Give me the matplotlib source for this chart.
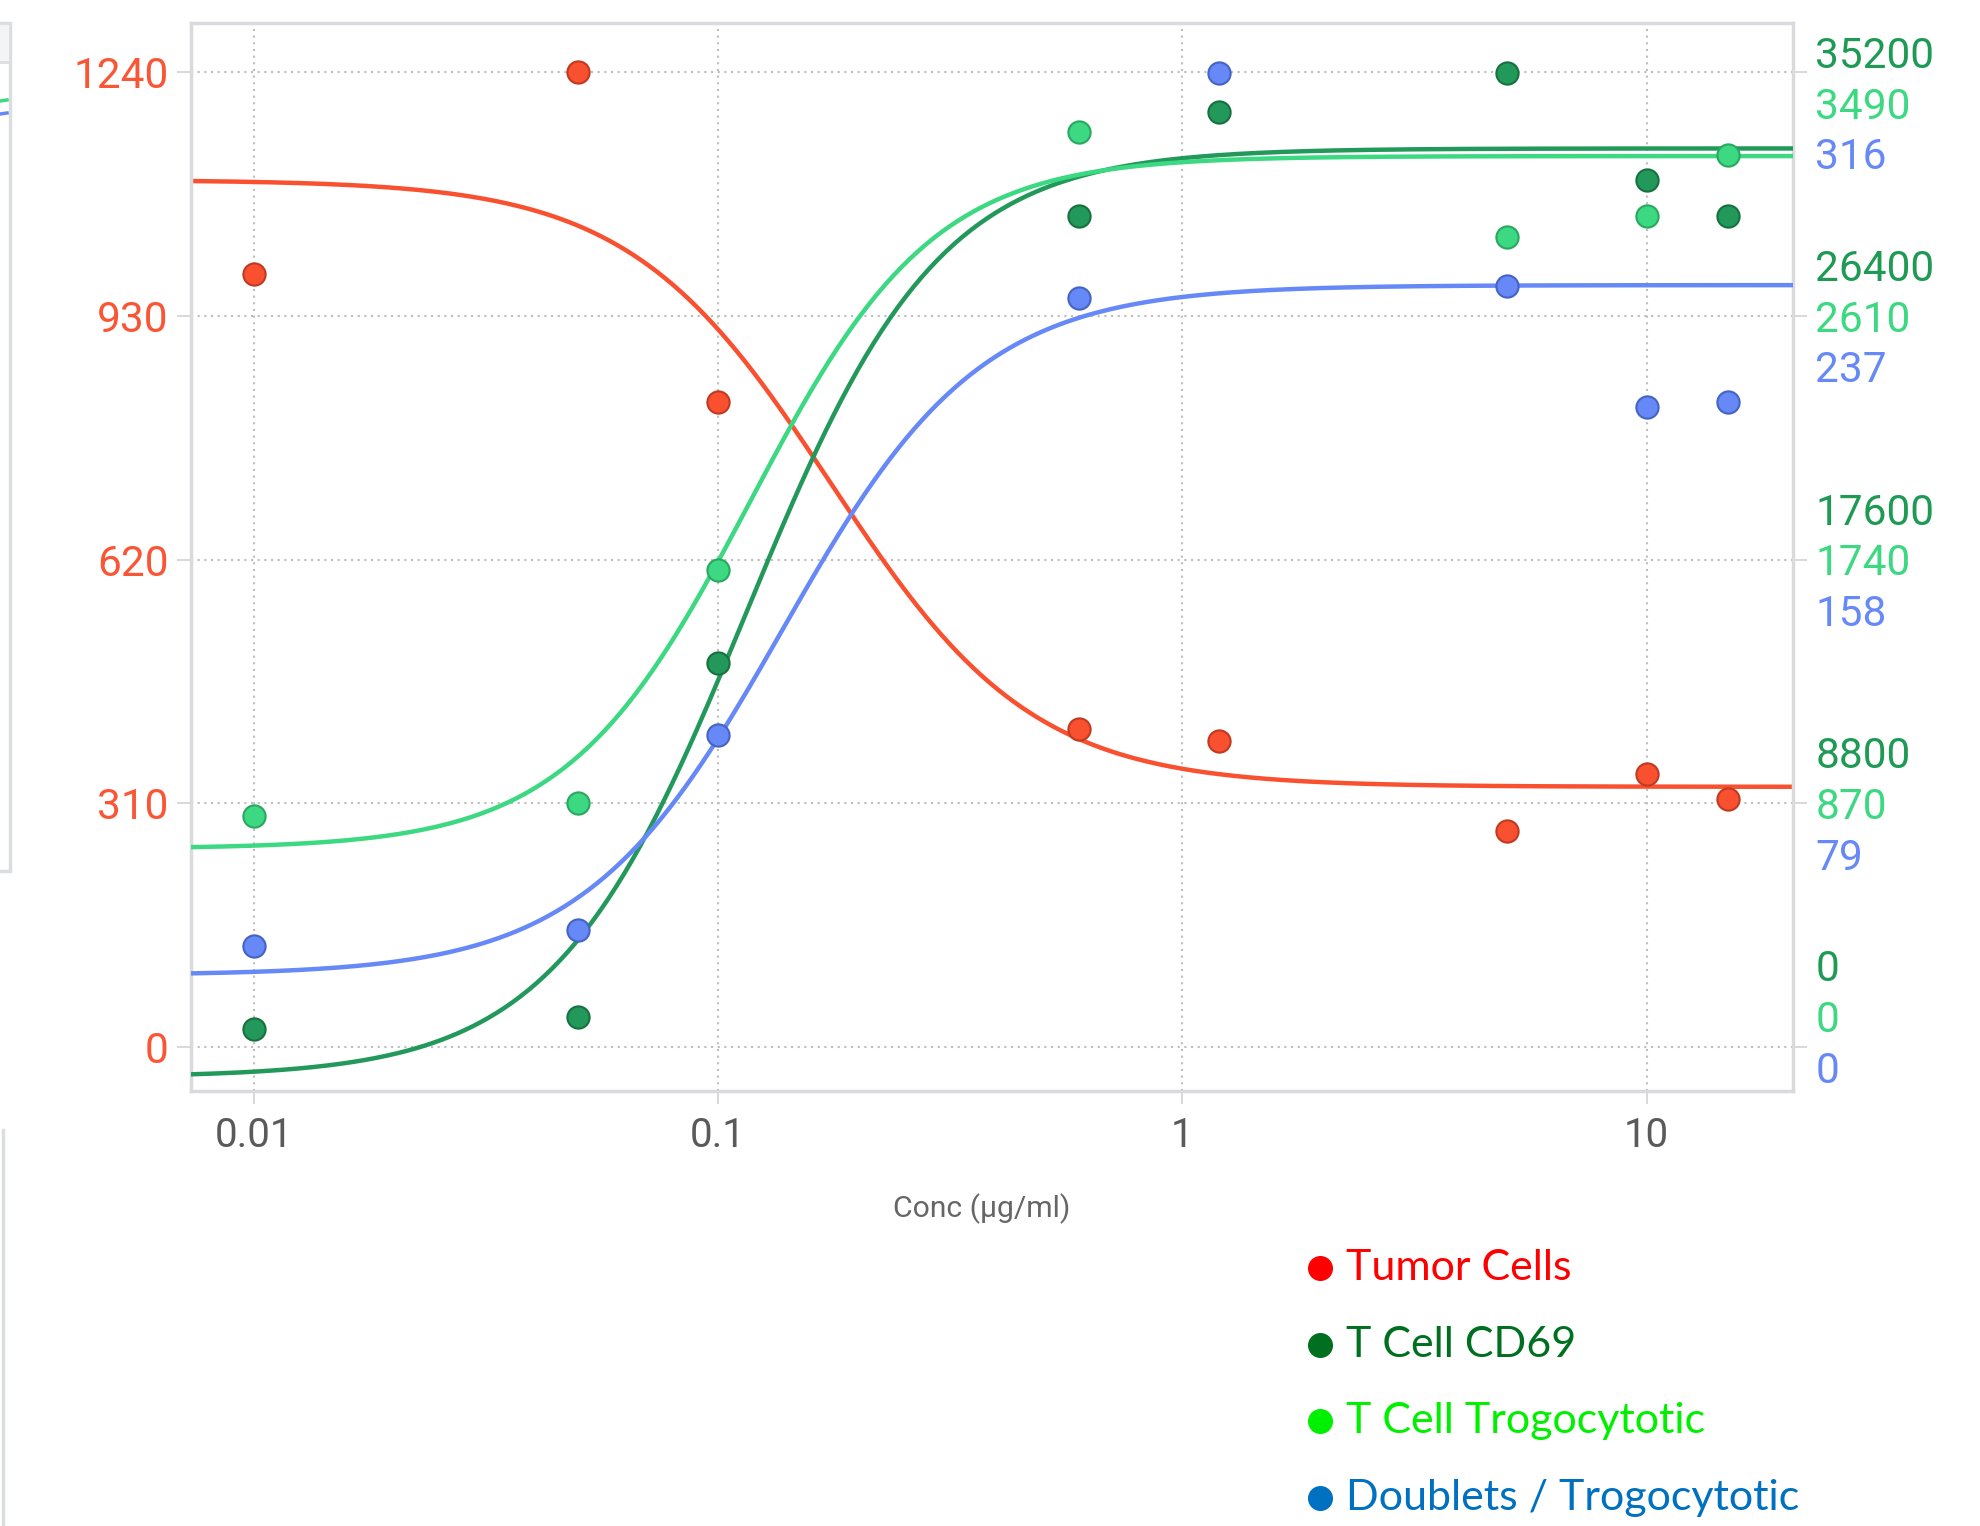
import matplotlib
matplotlib.use("Agg")
import matplotlib.pyplot as plt
import numpy as np
from matplotlib.lines import Line2D
from matplotlib.patches import Rectangle

# точки (концентрация в мкг/мл)
conc = [0.01, 0.05, 0.1, 0.6, 1.2, 5, 10, 15]
tumor = [983, 1240, 821, 405, 389, 275, 347, 315]
cd69 = [640, 1090, 13870, 30000, 33760, 35170, 31300, 30000]
trog_conc = [0.01, 0.05, 0.1, 0.6, 5, 10, 15]
trog = [827, 873, 1707, 3277, 2900, 2974, 3193]
doub = [32.7, 37.9, 101.1, 242.7, 315.7, 246.8, 207.4, 209.2]

# параметры 4PL-кривых: низ, верх, EC50, наклон
tumor_fit = (331, 1103, 0.175, 2.0)
cd69_fit = (-1090, 32450, 0.115, 2.1)
trog_fit = (710, 3190, 0.117, 2.2)
doub_fit = (23.3, 247, 0.1375, 2.04)

left_ticks = [0, 310, 620, 930, 1240]
cd69_ticks = ["0", "8800", "17600", "26400", "35200"]
trog_ticks = ["0", "870", "1740", "2610", "3490"]
doub_ticks = ["0", "79", "158", "237", "316"]
x_ticks = [0.01, 0.1, 1, 10]
x_labels = ["0.01", "0.1", "1", "10"]

legend_labels = ["Tumor Cells", "T Cell CD69", "T Cell Trogocytotic", "Doublets / Trogocytotic"]
legend_colors = ["#FF0000", "#007020", "#00F000", "#0070C0"]

RED, DGREEN, LGREEN, BLUE = "#F9502F", "#22995A", "#3DD882", "#6689F7"
RED_E, DGREEN_E, LGREEN_E, BLUE_E = "#C03A22", "#17713F", "#28A860", "#4563C4"


def rising(x, fit):
    lo, hi, ec, h = fit
    return lo + (hi - lo) / (1 + (ec / x) ** h)


def falling(x, fit):
    lo, hi, ec, h = fit
    return lo + (hi - lo) / (1 + (x / ec) ** h)


fig = plt.figure(figsize=(19.8, 15.26), dpi=100)
W, H = 1980, 1526
ax = fig.add_axes([191 / W, 1 - 1091 / H, (1793 - 191) / W, (1091 - 23) / H])

ylo, yhi = -56, 1302.7
xlo, xhi = 10 ** -2.135, 10 ** 1.315
ax.set_xscale("log")
ax.set_xlim(xlo, xhi)
ax.set_ylim(ylo, yhi)

xs = np.logspace(np.log10(xlo), np.log10(xhi), 400)

# отдельные оси под каждую серию, масштаб подогнан к левой шкале
def twin(top_label):
    t = ax.twinx()
    k = float(top_label) / 1240
    t.set_ylim(ylo * k, yhi * k)
    t.set_xscale("log")
    t.set_xlim(xlo, xhi)
    t.axis("off")
    return t

ax_cd69 = twin(cd69_ticks[-1])
ax_trog = twin(trog_ticks[-1])
ax_doub = twin(doub_ticks[-1])

ax.plot(xs, falling(xs, tumor_fit), color=RED, lw=3.2, zorder=2)
ax_trog.plot(xs, rising(xs, trog_fit), color=LGREEN, lw=3.2, zorder=2)
ax_doub.plot(xs, rising(xs, doub_fit), color=BLUE, lw=3.2, zorder=2)
ax_cd69.plot(xs, rising(xs, cd69_fit), color=DGREEN, lw=3.2, zorder=2)

ms = 16
ax.plot(conc, tumor, "o", ms=ms, color=RED, mec=RED_E, mew=1.5, zorder=3)
ax_cd69.plot(conc, cd69, "o", ms=ms, color=DGREEN, mec=DGREEN_E, mew=1.5, zorder=3)
ax_trog.plot(trog_conc, trog, "o", ms=ms, color=LGREEN, mec=LGREEN_E, mew=1.5, zorder=3)
ax_doub.plot(conc, doub, "o", ms=ms, color=BLUE, mec=BLUE_E, mew=1.5, zorder=3)

# сетка, рамка, подписи
ax.grid(True, which="major", color="#BDBDBD", ls=(0, (1, 2.2)), lw=1.5)
ax.minorticks_off()
for s in ax.spines.values():
    s.set_color("#D9DADE")
    s.set_linewidth(2.5)
ax.set_xticks(x_ticks)
ax.set_xticklabels(x_labels)
ax.set_yticks(left_ticks)
ax.set_yticklabels([str(v) for v in left_ticks])
ax.tick_params(axis="y", colors="#D0D2D6", labelcolor="#FA5535", labelsize=30.5,
               length=10, width=1.2, pad=6, right=True)
ax.tick_params(axis="x", colors="#D0D2D6", labelcolor="#5A5A5A", labelsize=29,
               length=9, width=1.2, pad=9)
for lab in ax.get_xticklabels() + ax.get_yticklabels():
    lab.set_family("Roboto")

# правая шкала: три подписи на каждую линию сетки
tr = ax.get_yaxis_transform()
step = 36.5
for i, v in enumerate(left_ticks):
    shift = -3
    if i == 0:
        shift = 19
    elif i == len(left_ticks) - 1:
        shift = -25
    for j, (labs, c) in enumerate([(cd69_ticks, "#1F9A55"), (trog_ticks, LGREEN), (doub_ticks, BLUE)]):
        ax.annotate(labs[i], xy=(1, v), xycoords=tr, xytext=(16, shift + (1 - j) * step),
                    textcoords="offset points", ha="left", va="center",
                    fontsize=30.5, color=c, family="Roboto")

fig.text(982 / W, 1 - 1209 / H, "Conc (µg/ml)", ha="center", va="center",
         fontsize=21.7, color="#666666", family="Roboto")

# легенда
for i, (lab, c) in enumerate(zip(legend_labels, legend_colors)):
    y = 1 - (1268 + i * 76.7) / H
    fig.add_artist(Line2D([1320 / W], [y], marker="o", ms=17, color=c, mec=c,
                          transform=fig.transFigure))
    fig.text(1346 / W, y, lab, ha="left", va="center", fontsize=31, color=c, family="Lato")

# обрезанный кусок соседнего графика слева
fig.add_artist(Rectangle((-10 / W, 1 - 871 / H), 20 / W, (871 - 23) / H, transform=fig.transFigure,
                         fill=False, ec="#DCDDE0", lw=2.5))
fig.add_artist(Rectangle((-10 / W, 1 - 62 / H), 20 / W, 39 / H, transform=fig.transFigure,
                         fc="#F4F4F4", ec="#DCDDE0", lw=2))
fig.add_artist(Line2D([0, 7 / W], [1 - 101 / H, 1 - 100 / H], color=LGREEN, lw=2.5, transform=fig.transFigure))
fig.add_artist(Line2D([0, 7 / W], [1 - 114 / H, 1 - 113 / H], color=BLUE, lw=2.5, transform=fig.transFigure))
fig.add_artist(Line2D([3 / W, 3 / W], [0, 1 - 1130 / H], color="#DCDDE0", lw=2.5, transform=fig.transFigure))

fig.savefig("out.png", dpi=100, facecolor="white")
